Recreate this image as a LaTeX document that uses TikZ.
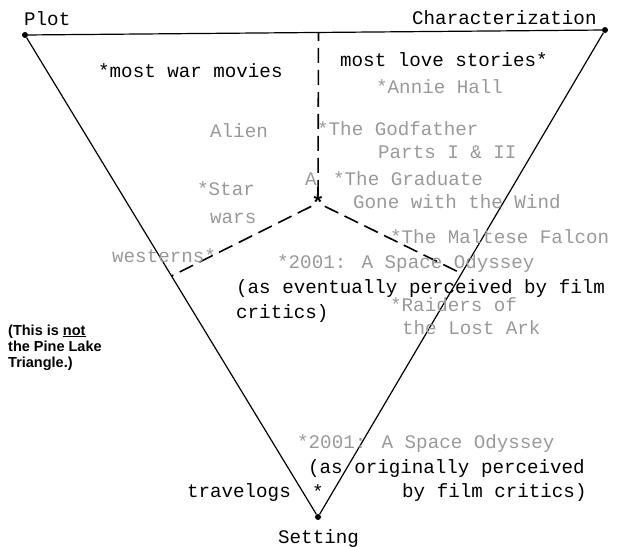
\documentclass[tikz,border=0pt]{standalone}
\usepackage{fontspec}
\usepackage{tikz}
\usetikzlibrary{positioning, calc}
\newfontfamily\typer{Liberation Mono}
\newfontfamily\scrawl{Liberation Sans}
\tikzset{
  corner/.style={circle, fill=black, inner sep=0pt, minimum size=6pt},
  side/.style={line width=1.2pt, black},
  split/.style={line width=1.6pt, black, dash pattern=on 15pt off 7pt},
  film/.style={font=\typer\fontsize{19.2}{22}\selectfont, inner sep=0pt, anchor=base west},
  faint/.style={film, text=black!40},
  note/.style={font=\scrawl\bfseries\fontsize{14.5}{16}\selectfont, inner sep=0pt,
               anchor=base west, align=left},
}

\begin{document}
\begin{tikzpicture}[x=1pt, y=-1pt]
  \useasboundingbox (0,0) rectangle (623,546);
  % the three corners
  \node[corner] (pl) at (25,35) {};
  \node[corner] (ch) at (605,30) {};
  \node[corner] (st) at (318,517) {};
  \draw[side] (pl) -- (ch) -- (st) -- (pl);
  \node[film] (plt) at (24,25) {Plot};
  \node[film] (cht) at (412,24) {Characterization};
  \node[film] (stt) at (278,543) {Setting};
  % the middle and the split lines
  \node[film, anchor=center, font=\typer\bfseries\fontsize{22}{22}\selectfont] (mid) at (318,203) {*};
  \coordinate (top) at ($(pl)!0.506!(ch)$);
  \coordinate (lft) at ($(pl)!0.5!(st)$);
  \coordinate (rgt) at ($(ch)!0.5!(st)$);
  \draw[split] (mid) -- (top);
  \draw[split] (mid) -- (lft);
  \draw[split] (mid) -- (rgt);
  % films
  \node[film] (war) at (98,77) {*most war movies};
  \node[film] (love) at (340,66) {most love stories*};
  \node[faint] (f1) at (376,93) {*Annie Hall};
  \node[faint] (f2) at (210,137) {Alien};
  \node[faint] (f3) at (317,135) {*The Godfather};
  \node[faint] (f4) at (378,158) {Parts I \& II};
  \node[faint] (f5) at (305,185) {A};
  \node[faint] (f6) at (333,185) {*The Graduate};
  \node[faint] (f7) at (353,208) {Gone with the Wind};
  \node[faint] (f8) at (197,195) {*Star};
  \node[faint] (f9) at (210,223) {wars};
  \node[faint] (f10) at (112,262) {westerns*};
  \node[faint] (f11) at (390,243) {*The Maltese Falcon};
  \node[faint] (f12) at (277,268) {*2001: A Space Odyssey};
  \node[film] (ev) at (236,293) {(as eventually perceived by film};
  \node[film] (ev2) at (236,318) {critics)};
  \node[faint] (f13) at (390,311) {*Raiders of};
  \node[faint] (f14) at (402,334) {the Lost Ark};
  \node[faint] (f15) at (297,448) {*2001: A Space Odyssey};
  \node[film] (or) at (308,473) {(as originally perceived};
  \node[film] (or2) at (402,497) {by film critics)};
  \node[film, anchor=base east] (trv) at (291,497) {travelogs};
  \node[film, anchor=center] (trs) at (318,492) {*};
  % scrawled note
  \node[note] (pine) at (8,367) {(This is \underline{not}\\the Pine Lake\\Triangle.)};
\end{tikzpicture}
\end{document}
